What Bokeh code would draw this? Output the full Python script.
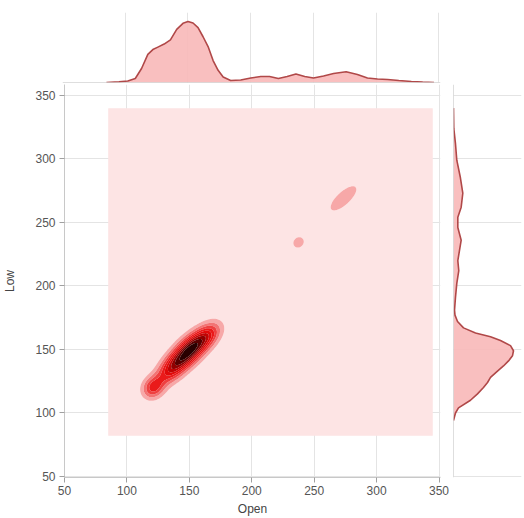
import numpy as np
from bokeh.plotting import figure
from bokeh.layouts import column, row
from bokeh.models import Range1d, FixedTicker, Span
from bokeh.embed import file_html
from bokeh.resources import INLINE

# ---------------- data ----------------
tick_values = [50, 100, 150, 200, 250, 300, 350]

# marginal KDE of "Open" (relative density, peak = 1)
open_grid = [85, 95, 102, 108, 113, 118, 122, 126, 131, 136, 141, 146, 150, 154, 158,
             162, 166, 170, 174, 178, 184, 192, 200, 208, 215, 222, 229, 236, 243, 250,
             258, 266, 276, 285, 293, 301, 309, 318, 328, 337, 346]
open_density = [0, 0.01, 0.025, 0.066, 0.23, 0.46, 0.54, 0.58, 0.63, 0.70, 0.87, 0.97, 1.0,
                0.975, 0.90, 0.75, 0.59, 0.36, 0.20, 0.09, 0.033, 0.041, 0.074, 0.098, 0.098,
                0.066, 0.098, 0.14, 0.098, 0.074, 0.107, 0.148, 0.175, 0.131, 0.074, 0.057,
                0.049, 0.033, 0.016, 0.007, 0]

# marginal KDE of "Low" (relative density, peak = 1)
low_grid = [94, 100, 104, 110, 115, 120, 124, 128, 133, 137, 141, 145, 149, 153, 157, 160,
            163, 167, 172, 177, 181, 191, 202, 212, 220, 228, 236, 246, 254, 262, 273, 286,
            299, 312, 324, 340]
low_density = [0, 0.033, 0.083, 0.283, 0.40, 0.50, 0.567, 0.617, 0.733, 0.833, 0.917, 0.983,
               1.0, 0.95, 0.783, 0.617, 0.367, 0.167, 0.067, 0.025, 0.017, 0.033, 0.055, 0.088,
               0.072, 0.10, 0.128, 0.072, 0.072, 0.128, 0.155, 0.112, 0.055, 0.033, 0.005, 0]

# joint KDE: density modes (Open, Low), spreads along / across the ridge, weights
kde_open_center = [150, 135, 121, 165, 237.5, 273.5]
kde_low_center = [149, 134, 120, 161, 234.3, 269]
kde_major_spread = [13, 10, 6.5, 9, 4.4, 13]
kde_minor_spread = [6.2, 6.0, 5.6, 5.6, 3.8, 5.0]
kde_angle = [44, 45, 45, 42, 40, 42]
kde_weight = [1.0, 0.45, 0.45, 0.35, 0.18, 0.18]
kde_open_extent = [85, 345]
kde_low_extent = [82, 340]
kde_levels = [0, 0.1, 0.2, 0.3, 0.4, 0.5, 0.6, 0.7, 0.8, 0.9, 1.01]

# ---------------- styles ----------------
FONT = "Liberation Sans"
palette = ["#fde4e4", "#f7a8a8", "#f27474", "#ee4040", "#ea1a1a",
           "#e00a0a", "#c00404", "#900000", "#580000", "#280000"]
fill_c = "#f8b8b8"
line_c = "#b04848"
grid_c = "#e4e4e4"

# ---------------- density grid ----------------
xs = np.linspace(kde_open_extent[0], kde_open_extent[1], 261)
ys = np.linspace(kde_low_extent[0], kde_low_extent[1], 259)
X, Y = np.meshgrid(xs, ys)
Z = np.zeros_like(X)
for cx, cy, su, sv, ang, w in zip(kde_open_center, kde_low_center, kde_major_spread,
                                  kde_minor_spread, kde_angle, kde_weight):
    t = np.deg2rad(ang)
    dx, dy = X - cx, Y - cy
    u = dx * np.cos(t) + dy * np.sin(t)
    v = -dx * np.sin(t) + dy * np.cos(t)
    Z += w * np.exp(-0.5 * ((u / su) ** 2 + (v / sv) ** 2))
Z = Z / Z.max()

# ---------------- figures ----------------
x_range = Range1d(50, 351.2)
y_range = Range1d(49.2, 358.6)

main = figure(width=453, height=434, x_range=x_range, y_range=y_range,
              min_border_left=62, min_border_right=13, min_border_top=0, min_border_bottom=40,
              output_backend="svg", toolbar_location=None)
main.outline_line_color = None
main.contour(x=xs, y=ys, z=Z, levels=kde_levels, fill_color=palette)

for ax in (main.xaxis[0], main.yaxis[0]):
    ax.ticker = FixedTicker(ticks=tick_values)
    ax.axis_line_color = "#c8c8c8"
    ax.major_tick_line_color = "#a0a0a0"
    ax.major_tick_out = 5
    ax.major_tick_in = 0
    ax.minor_tick_line_color = None
    ax.major_label_text_font = FONT
    ax.major_label_text_font_size = "12px"
    ax.major_label_text_color = "#555555"
    ax.axis_label_text_font = FONT
    ax.axis_label_text_font_size = "12px"
    ax.axis_label_text_font_style = "normal"
    ax.axis_label_text_color = "#444444"
main.xaxis.axis_label = "Open"
main.yaxis.axis_label = "Low"
main.xaxis.major_label_standoff = 3
main.xaxis.axis_label_standoff = 4
main.yaxis.major_label_standoff = 4
main.yaxis.axis_label_standoff = 15
main.xgrid.ticker = FixedTicker(ticks=tick_values)
main.ygrid.ticker = FixedTicker(ticks=tick_values)
main.xgrid.grid_line_color = grid_c
main.ygrid.grid_line_color = grid_c

# top marginal
top = figure(width=453, height=84, x_range=x_range, y_range=Range1d(0, 70 / 61),
             min_border_left=62, min_border_right=13, min_border_top=12, min_border_bottom=2,
             x_axis_location=None, y_axis_location=None,
             output_backend="svg", toolbar_location=None)
top.outline_line_color = None
top.xgrid.ticker = FixedTicker(ticks=tick_values)
top.xgrid.grid_line_color = grid_c
top.ygrid.visible = False
top.add_layout(Span(location=0, dimension="width", line_color="#bdbdbd", line_width=1))
top.varea(x=open_grid, y1=0, y2=open_density, fill_color=fill_c, fill_alpha=0.9)
top.line(x=open_grid, y=open_density, line_color=line_c, line_width=1.6)

# right marginal
right = figure(width=71, height=434, x_range=Range1d(0, 68 / 60), y_range=y_range,
               min_border_left=0, min_border_right=3, min_border_top=0, min_border_bottom=40,
               x_axis_location=None, y_axis_location=None,
               output_backend="svg", toolbar_location=None)
right.outline_line_color = None
right.ygrid.ticker = FixedTicker(ticks=tick_values)
right.ygrid.grid_line_color = grid_c
right.xgrid.visible = False
right.add_layout(Span(location=0, dimension="height", line_color="#bdbdbd", line_width=1))
right.harea(y=low_grid, x1=0, x2=low_density, fill_color=fill_c, fill_alpha=0.9)
right.line(x=low_density, y=low_grid, line_color=line_c, line_width=1.6)

layout = column(top, row(main, right))
open("out.html", "w").write(file_html(layout, INLINE))
